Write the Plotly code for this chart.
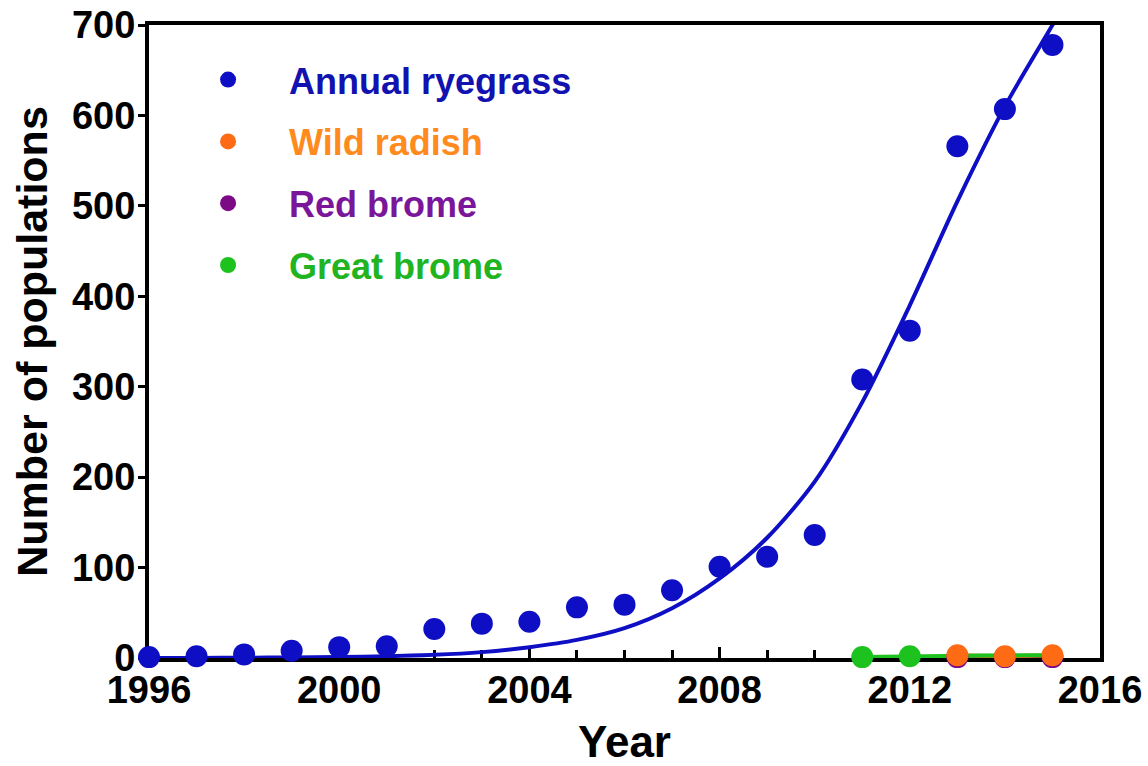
import plotly.graph_objects as go

# Observed numbers of herbicide-resistant populations per year
years_ryegrass = list(range(1996, 2016))
ryegrass = [1, 2, 4, 8, 12, 13, 32, 38, 40, 56, 59, 75, 101, 112, 136, 308, 362, 566, 607, 678]

# Fitted growth curve for annual ryegrass (sampled by year)
fit_years = list(range(1996, 2016)) + [2015.3]
fit_ryegrass = [0, 0.1, 0.3, 0.6, 1, 2, 3.5, 6.5, 12, 20, 33, 55, 88, 133, 195, 283, 390, 505, 610, 700, 728]

years_radish = [2013, 2014, 2015]
wild_radish = [3, 2, 3]

years_red = [2013, 2014, 2015]
red_brome = [1, 1, 1]

years_great = [2011, 2012]
great_brome = [1, 2]
great_fit_years = [2011, 2012, 2013, 2014, 2015]
great_fit = [1, 2, 3, 3, 3]

x_ticks = [1996, 2000, 2004, 2008, 2012, 2016]
y_ticks = [0, 100, 200, 300, 400, 500, 600, 700]

BLUE = "#0e0ec4"
BLUE_TXT = "#1212b0"
ORANGE = "#ff6a14"
ORANGE_TXT = "#ff8a1e"
PURPLE = "#7d0a85"
PURPLE_TXT = "#7a1699"
GREEN = "#1ec21e"
GREEN_TXT = "#20b420"

FONT = "Liberation Sans, Arial, Helvetica, sans-serif"
MS = 22

fig = go.Figure()

# fitted lines
fig.add_trace(go.Scatter(x=fit_years, y=fit_ryegrass, mode="lines",
                         line=dict(color=BLUE, width=4, shape="spline", smoothing=0.8),
                         showlegend=False, hoverinfo="skip"))
fig.add_trace(go.Scatter(x=years_red, y=red_brome, mode="lines", line=dict(color=PURPLE, width=4),
                         showlegend=False, hoverinfo="skip"))
fig.add_trace(go.Scatter(x=years_radish, y=wild_radish, mode="lines", line=dict(color=ORANGE, width=4),
                         showlegend=False, hoverinfo="skip"))
fig.add_trace(go.Scatter(x=great_fit_years, y=great_fit, mode="lines", line=dict(color=GREEN, width=4),
                         showlegend=False, hoverinfo="skip"))

# data points
series = [
    ("Annual ryegrass", years_ryegrass, ryegrass, BLUE, BLUE_TXT),
    ("Wild radish", years_radish, wild_radish, ORANGE, ORANGE_TXT),
    ("Red brome", years_red, red_brome, PURPLE, PURPLE_TXT),
    ("Great brome", years_great, great_brome, GREEN, GREEN_TXT),
]
draw_order = [0, 2, 3, 1]
for i in draw_order:
    name, xs, ys, col, tcol = series[i]
    fig.add_trace(go.Scatter(
        x=xs, y=ys, mode="markers",
        marker=dict(color=col, size=MS, line=dict(width=0)),
        name=f"<span style='color:{tcol}'>{name}</span>",
        legendrank=i + 1, legendgroup=name,
        cliponaxis=False,
    ))

axis_common = dict(
    showline=True, linecolor="black", linewidth=4, mirror=True,
    showgrid=False, zeroline=False, layer="below traces",
    tickfont=dict(family=FONT, size=38, color="black", weight="bold"),
    tickcolor="black", tickwidth=3,
)

fig.update_xaxes(
    range=[1996, 2016], tickvals=x_ticks, ticks="inside", ticklen=11,
    ticklabelstandoff=-5, automargin=True,
    minor=dict(dtick=1, tick0=1996, ticks="inside", ticklen=8, tickwidth=3, tickcolor="black"),
    title=dict(text="Year", font=dict(family=FONT, size=44, color="black", weight="bold"), standoff=24),
    **axis_common,
)
fig.update_yaxes(
    range=[0, 700], tickvals=y_ticks, ticks="outside", ticklen=7,
    ticklabelstandoff=-5,
    title=dict(text="Number of populations", font=dict(family=FONT, size=43, color="black", weight="bold"),
               standoff=12),
    **axis_common,
)

fig.update_layout(
    width=1148, height=766,
    margin=dict(l=149, r=48, t=25, b=108, autoexpand=False),
    plot_bgcolor="white", paper_bgcolor="white",
    showlegend=True,
    legend=dict(
        x=0.019, y=0.961, xanchor="left", yanchor="top",
        bgcolor="rgba(0,0,0,0)", borderwidth=0,
        font=dict(family=FONT, size=36, weight="bold"),
        itemwidth=112, tracegroupgap=12,
    ),
)

fig.write_html("out.html")
